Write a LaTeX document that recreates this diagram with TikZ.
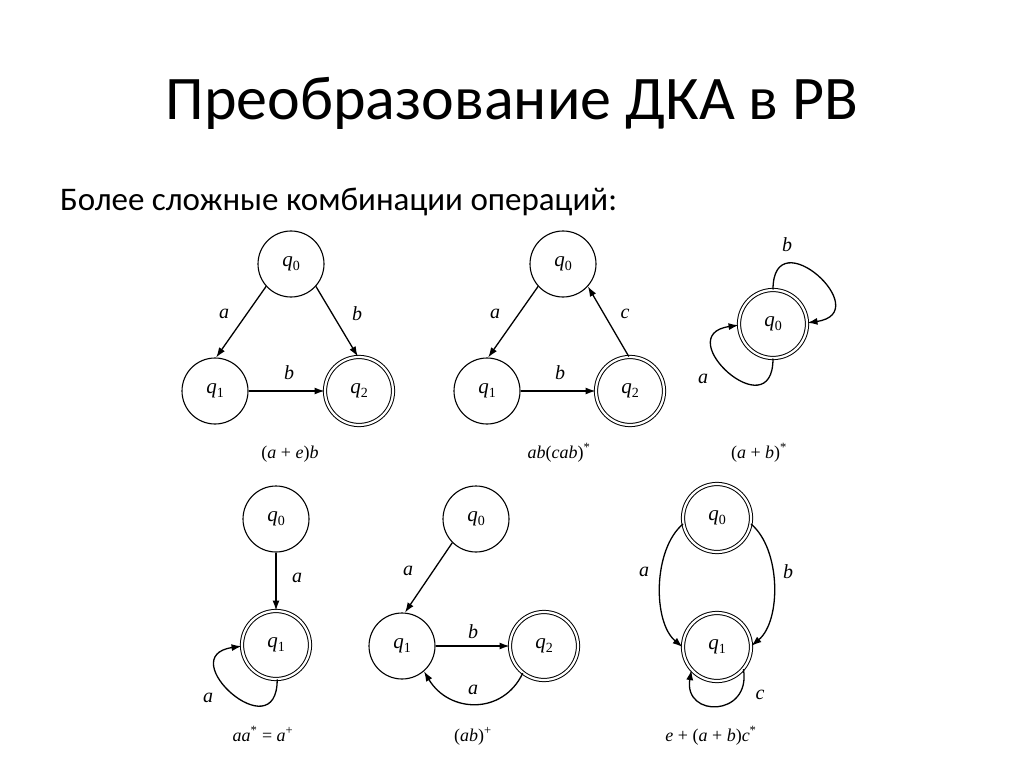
\documentclass[tikz,border=0pt]{standalone}
\usepackage{fontspec}
\setmainfont{Carlito}
\newfontfamily\tms{Liberation Serif}
\usetikzlibrary{arrows.meta}
\newcommand\qs[1]{{\itshape q}\raisebox{-0.35ex}{\fontsize{14}{14}\selectfont #1}}
\newcommand\vi[1]{\textit{#1}}
\begin{document}
\begin{tikzpicture}[x=1pt,y=-1pt,
  state/.style={circle,draw,line width=1.1pt,minimum size=66pt,inner sep=0pt,font=\tms\fontsize{21}{21}\selectfont},
  final/.style={state,double,double distance=2.2pt,line width=1pt,minimum size=68pt},
  arr/.style={-{Latex[length=10pt,width=7pt]},line width=1.3pt},
  lbl/.style={font=\tms\itshape\fontsize{20}{20}\selectfont,inner sep=0pt},
  frm/.style={font=\tms\fontsize{18}{18}\selectfont,inner sep=0pt,anchor=base}]
\useasboundingbox (0,0) rectangle (1024,767);
\node[anchor=base,font=\fontsize{62}{62}\selectfont] (title) at (512,120) {Преобразование ДКА в РВ};
\node[anchor=base west,font=\fontsize{33}{33}\selectfont,inner sep=0pt] (sub) at (60,211) {Более сложные комбинации операций:};

% Diagram 1
\node[state] (a0) at (291,264) {\qs0};
\node[state] (a1) at (215,391) {\qs1};
\node[final] (a2) at (359,391) {\qs2};
\draw[arr] (a0.-138) -- (a1.88);
\draw[arr] (a0.-42) -- (a2.92);
\draw[arr] (a1) -- (a2);
\node[lbl] (la1) at (224,314) {a};
\node[lbl] (la2) at (357,314) {b};
\node[lbl] (la3) at (289,373) {b};
\node[frm] (fa) at (290,458) {(\vi{a} + \vi{e})\vi{b}};

% Diagram 2
\node[state] (b0) at (563,264) {\qs0};
\node[state] (b1) at (487,391) {\qs1};
\node[final] (b2) at (630,391) {\qs2};
\draw[arr] (b0.-138) -- (b1.88);
\draw[arr] (b2.92) -- (b0.-42);
\draw[arr] (b1) -- (b2);
\node[lbl] (lb1) at (495,314) {a};
\node[lbl] (lb2) at (625,314) {c};
\node[lbl] (lb3) at (560,373) {b};
\node[frm] (fb) at (559,458) {\vi{ab}(\vi{cab})\textsuperscript{*}};

% Diagram 3
\node[final] (c0) at (773,324) {\qs0};
\draw[arr] (c0.90) .. controls +(0,-72) and +(70,-10) .. (c0.2);
\draw[arr] (c0.-90) .. controls +(0,72) and +(-70,10) .. (c0.182);
\node[lbl] (lc1) at (787,245) {b};
\node[lbl] (lc2) at (703,379) {a};
\node[frm] (fc) at (759,458) {(\vi{a} + \vi{b})\textsuperscript{*}};

% Diagram 4
\node[state] (d0) at (276,519) {\qs0};
\node[final] (d1) at (276,645) {\qs1};
\draw[arr] (d0) -- (d1);
\draw[arr] (d1.-88) .. controls +(0,72) and +(-70,10) .. (d1.182);
\node[lbl] (ld1) at (297,578) {a};
\node[lbl] (ld2) at (208,698) {a};
\node[frm] (fd) at (263,741) {\vi{aa}\textsuperscript{*} = \vi{a}\textsuperscript{+}};

% Diagram 5
\node[state] (e0) at (476,519) {\qs0};
\node[state] (e1) at (402,646) {\qs1};
\node[final] (e2) at (544,646) {\qs2};
\draw[arr] (e0.-135) -- (e1.85);
\draw[arr] (e1) -- (e2);
\draw[arr] (e2.-128) .. controls +(-20,42) and +(25,42) .. (e1.-49);
\node[lbl] (le1) at (408,571) {a};
\node[lbl] (le2) at (473,632) {b};
\node[lbl] (le3) at (473,690) {a};
\node[frm] (fe) at (473,741) {(\vi{ab})\textsuperscript{+}};

% Diagram 6
\node[final] (f0) at (717,518) {\qs0};
\node[final] (f1) at (717,647) {\qs1};
\draw[arr] (f0.190) .. controls +(-30,25) and +(-30,-25) .. (f1.180);
\draw[arr] (f0.-10) .. controls +(30,25) and +(30,-25) .. (f1.2);
\draw[arr] (f1.-40) .. controls +(8,48) and +(-8,48) .. (f1.-138);
\node[lbl] (lf1) at (644,572) {a};
\node[lbl] (lf2) at (788,572) {b};
\node[lbl] (lf3) at (760,695) {c};
\node[frm] (ff) at (711,741) {\vi{e} + (\vi{a} + \vi{b})\vi{c}\textsuperscript{*}};
\end{tikzpicture}
\end{document}
